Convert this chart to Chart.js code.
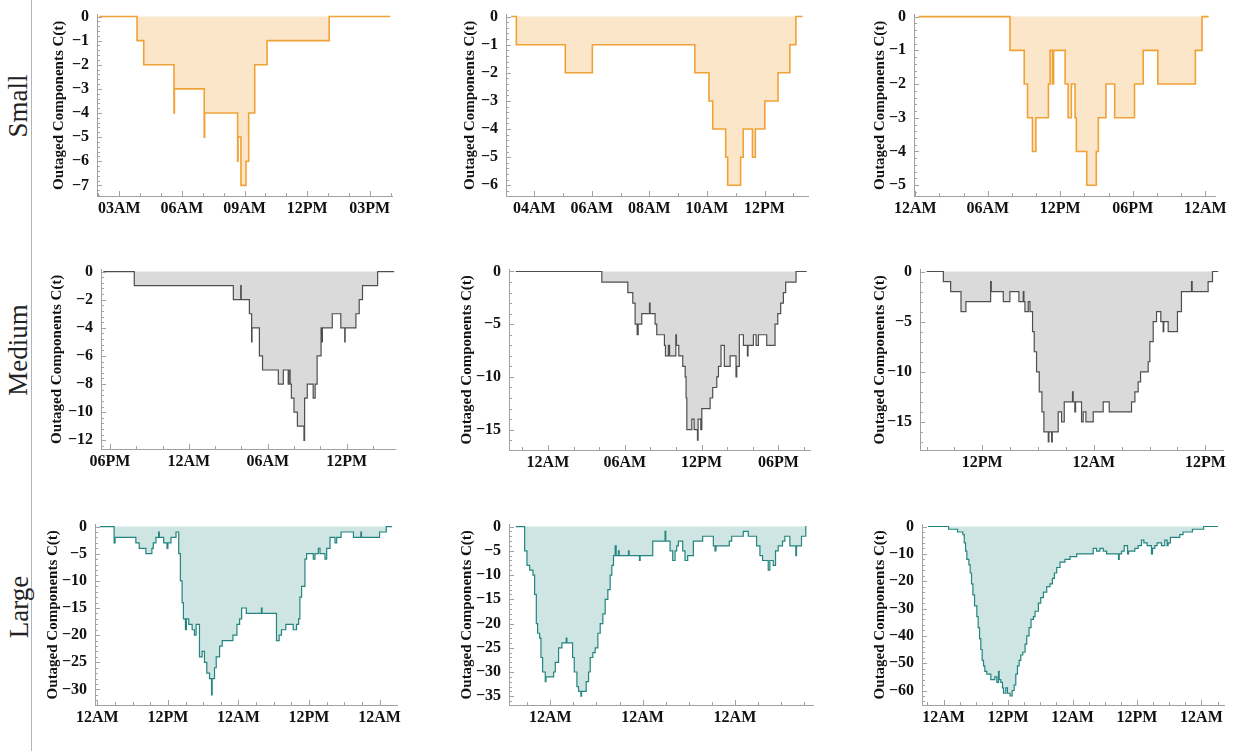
<!DOCTYPE html>
<html>
<head>
<meta charset="utf-8">
<script src="https://cdn.jsdelivr.net/npm/chart.js@4.4.0/dist/chart.umd.min.js"></script>
<style>
  html, body { margin: 0; padding: 0; background: #fff; }
  body { width: 1240px; height: 751px; position: relative; overflow: hidden; }
  canvas { position: absolute; }
  #sep { position: absolute; left: 31px; top: 0; width: 1px; height: 751px; background: #b4b4b4; }
  .rowlabel {
    position: absolute; font-family: 'Liberation Serif', 'Times New Roman', serif;
    font-size: 27px; color: #222; white-space: nowrap;
    transform: translate(-50%, -50%) rotate(-90deg);
  }
</style>
</head>
<body>
<div id="sep"></div>
<div class="rowlabel" style="left:18px; top:106px">Small</div>
<div class="rowlabel" style="left:18px; top:350px">Medium</div>
<div class="rowlabel" style="left:19px; top:607px">Large</div>

<script>
// outage curves: time in hours, value = outaged components C(t), held until the next time
const smallA_t = [2.04, 3.85, 4.17, 5.62, 5.64, 7.07, 7.09, 8.67, 8.69, 8.83, 9.07, 9.20, 9.49, 10.08, 13.06, 15.99];
const smallA_c = [0, -1, -2, -4, -3, -5, -4, -6, -5, -7, -6, -4, -2, -1, 0, 0];

const smallB_t = [3.2, 3.38, 5.08, 6.02, 9.58, 10.07, 10.2, 10.65, 10.72, 11.17, 11.26, 11.58, 11.68, 12.01, 12.47, 12.88, 13.09, 13.32];
const smallB_c = [0, -1, -2, -1, -2, -3, -4, -5, -6, -5, -4, -5, -4, -3, -2, -1, 0, 0];

const smallC_t = [0.27, 7.84, 9.02, 9.29, 9.70, 9.98, 11.02, 11.16, 11.35, 11.45, 12.40, 12.65, 12.92, 13.22, 13.33, 14.19, 14.98, 15.15, 15.78, 16.5, 18.14, 18.86, 20.07, 23.18, 23.73, 24.27];
const smallC_c = [0, -1, -2, -3, -4, -3, -2, -1, -2, -1, -2, -3, -2, -3, -4, -5, -4, -3, -2, -3, -2, -1, -2, -1, 0, 0];

const mediumA_t = [17.5, 19.85, 27.38, 27.94, 27.98, 28.6, 28.77, 28.8, 29.36, 29.6, 30.8, 31.18, 31.55, 31.6, 31.7, 31.79, 31.99, 32.25, 32.75, 32.8, 33.0, 33.45, 33.6, 33.75, 34.05, 34.12, 34.15, 34.9, 35.55, 35.85, 35.88, 36.7, 36.95, 37.2, 38.35, 39.6];
const mediumA_c = [0, -1, -2, -1, -2, -3, -5, -4, -6, -7, -8, -7, -8, -7, -8, -9, -10, -11, -12, -9, -8, -9, -8, -6, -4, -5, -4, -3, -4, -5, -4, -3, -2, -1, 0, 0];

const mediumB_t = [21.48, 28.21, 30.24, 30.63, 30.81, 30.97, 31.05, 31.33, 31.93, 31.98, 32.37, 32.5, 33.1, 33.18, 33.41, 33.5, 33.99, 34.04, 34.22, 34.53, 34.72, 34.79, 34.85, 35.24, 35.42, 35.68, 35.73, 35.94, 36.02, 36.67, 36.87, 37.19, 37.32, 37.52, 37.78, 38.23, 38.69, 38.75, 38.95, 39.27, 39.58, 39.63, 40.05, 40.26, 40.44, 41.09, 41.74, 41.95, 42.18, 42.39, 42.57, 43.38, 44.21];
const mediumB_c = [0, -1, -2, -3, -5, -6, -5, -4, -3, -4, -5, -6, -7, -8, -7, -8, -6, -7, -8, -9, -10, -12, -15, -14, -15, -16, -14, -15, -13, -12, -11, -10, -9, -7, -9, -8, -10, -9, -6, -7, -8, -7, -6, -7, -6, -7, -5, -4, -3, -2, -1, 0, 0];

const mediumC_t = [6.01, 7.81, 8.6, 9.71, 10.24, 12.9, 12.97, 14.26, 14.97, 15.94, 16.41, 16.48, 16.59, 16.95, 17.13, 17.41, 17.59, 17.84, 18.13, 18.42, 18.63, 19.1, 19.17, 19.46, 19.53, 20.17, 20.53, 20.82, 21.71, 21.78, 21.96, 22.04, 22.68, 22.86, 23.15, 23.94, 25.01, 25.66, 28.06, 28.42, 28.77, 29.03, 29.85, 30.03, 30.39, 30.75, 31.21, 31.46, 31.53, 32.0, 33.0, 33.43, 34.51, 34.58, 36.3, 36.77, 37.38];
const mediumC_c = [0, -1, -2, -4, -3, -1, -2, -3, -2, -3, -2, -3, -4, -3, -4, -6, -8, -10, -12, -14, -16, -17, -16, -17, -16, -14, -15, -13, -12, -13, -14, -13, -15, -14, -15, -14, -13, -14, -13, -12, -11, -10, -9, -7, -5, -4, -5, -6, -5, -6, -4, -2, -1, -2, -1, 0, 0];

const largeA_t = [0.46, 2.85, 3.02, 6.55, 7.12, 8.26, 9.28, 9.51, 9.97, 10.42, 10.54, 11.28, 11.85, 12.0, 12.53, 13.38, 13.84, 14.12, 14.41, 14.64, 14.98, 15.15, 15.55, 16.12, 16.51, 16.8, 17.37, 17.82, 18.22, 18.62, 19.08, 19.42, 19.53, 19.93, 20.22, 20.79, 21.24, 23.06, 23.75, 24.2, 24.54, 25.34, 27.9, 28.02, 30.47, 30.92, 31.32, 32.06, 33.31, 33.88, 34.23, 34.45, 34.74, 35.31, 35.59, 36.73, 37.02, 37.59, 37.87, 38.72, 39.01, 39.58, 40.43, 40.72, 41.46, 43.56, 44.82, 44.93, 48.01, 49.15, 50.11];
const largeA_c = [0, -3, -2, -3, -4, -5, -4, -3, -2, -1, -2, -3, -4, -3, -2, -1, -5, -10, -14, -17, -19, -17, -18, -19, -20, -18, -24, -23, -25, -27, -28, -31, -28, -26, -24, -22, -21, -20, -18, -17, -15, -16, -15, -16, -21, -20, -19, -18, -19, -18, -17, -13, -11, -6, -5, -6, -5, -4, -5, -6, -4, -2, -3, -2, -1, -2, -1, -2, -1, 0, 0];

const largeB_t = [15.0, 17.34, 17.94, 18.64, 19.5, 19.93, 20.37, 20.71, 21.23, 21.58, 22.01, 22.7, 22.88, 24.87, 25.3, 26.16, 27.03, 28.15, 28.33, 29.8, 30.23, 30.92, 31.35, 31.96, 32.13, 33.34, 33.95, 34.38, 35.07, 35.68, 36.37, 36.98, 37.67, 38.27, 38.97, 39.57, 40.0, 40.44, 40.87, 41.13, 41.73, 41.91, 44.33, 44.5, 47.18, 47.36, 50.64, 53.84, 54.02, 55.14, 55.83, 56.44, 56.87, 57.3, 58.43, 59.03, 59.72, 61.2, 63.62, 66.39, 66.82, 67.08, 70.54, 71.15, 74.17, 75.47, 77.63, 78.5, 79.19, 80.66, 81.09, 81.96, 82.56, 83.26, 84.38, 84.98, 86.28, 87.84, 88.01, 89.31, 90.43, 90.6];
const largeB_c = [0, -5, -8, -9, -10, -14, -20, -22, -23, -27, -30, -32, -31, -30, -28, -25, -24, -23, -24, -27, -30, -33, -34, -35, -34, -32, -30, -27, -26, -25, -22, -20, -18, -15, -13, -10, -8, -6, -4, -6, -5, -6, -5, -6, -7, -6, -3, -1, -3, -5, -7, -5, -4, -3, -5, -7, -6, -3, -2, -4, -5, -4, -3, -2, -1, -2, -4, -6, -7, -9, -7, -8, -5, -4, -3, -2, -4, -6, -4, -2, 0, 0];

const largeC_t = [-2.91, 0.93, 2.6, 3.59, 3.84, 4.09, 4.33, 4.71, 4.95, 5.2, 5.45, 5.76, 6.19, 6.44, 6.69, 6.93, 7.18, 7.43, 7.68, 8.05, 8.79, 9.54, 9.91, 10.22, 10.34, 10.65, 10.96, 11.15, 11.58, 11.89, 12.38, 12.76, 13.13, 13.44, 13.75, 14.06, 14.37, 14.74, 15.17, 15.48, 15.91, 16.28, 16.72, 17.03, 17.65, 18.08, 18.58, 19.2, 19.81, 20.25, 20.62, 21.05, 21.67, 22.6, 23.53, 24.77, 27.86, 28.48, 29.1, 29.72, 30.34, 32.57, 32.69, 33.13, 33.62, 34.24, 34.43, 35.6, 36.22, 36.84, 37.28, 37.89, 38.7, 38.89, 39.32, 39.75, 40.56, 41.18, 41.61, 41.8, 42.23, 43.96, 44.58, 46.32, 48.42, 51.08];
const largeC_c = [0, -1, -2, -3, -6, -9, -12, -14, -17, -21, -25, -29, -33, -37, -41, -45, -49, -51, -53, -54, -56, -55, -57, -53, -56, -57, -59, -61, -59, -61, -62, -60, -58, -54, -51, -49, -47, -46, -43, -40, -37, -34, -33, -31, -28, -26, -24, -22, -21, -19, -17, -15, -13, -12, -11, -10, -8, -9, -8, -9, -10, -12, -10, -9, -7, -10, -9, -8, -7, -5, -6, -7, -10, -8, -7, -6, -7, -5, -7, -6, -4, -3, -2, -1, 0, 0];

const styles = {
  small:  { line: '#f0a237', fill: 'rgba(240,165,60,0.28)', width: 1.6 },
  medium: { line: '#4f4f4f', fill: 'rgba(140,140,140,0.32)', width: 1.2 },
  large:  { line: '#23857f', fill: 'rgba(95,168,163,0.30)', width: 1.2 }
};

// box = plot area [left, top, right, bottom] on the page
const panels = [
  { t: smallA_t,  c: smallA_c,  style: 'small',  box: [97, 9, 392, 196],   x: [1.93, 16.07],  xStep: 3,  xMinor: 1, y: [-7.44, 0.08],  yStep: 1,  gap: 38 },
  { t: smallB_t,  c: smallB_c,  style: 'small',  box: [506, 9, 808, 196],  x: [3.02, 13.51],  xStep: 2,  xMinor: 1, y: [-6.38, 0.07],  yStep: 1,  gap: 36 },
  { t: smallC_t,  c: smallC_c,  style: 'small',  box: [914, 9, 1215, 196], x: [-0.1, 24.8],   xStep: 6,  xMinor: 2, y: [-5.32, 0.06],  yStep: 1,  gap: 34 },
  { t: mediumA_t, c: mediumA_c, style: 'medium', box: [101, 264, 395, 449], x: [17.32, 39.67], xStep: 6,  xMinor: 2, y: [-12.62, 0.14], yStep: 2,  gap: 44 },
  { t: mediumB_t, c: mediumB_c, style: 'medium', box: [509, 264, 810, 450], x: [20.96, 44.47], xStep: 6,  xMinor: 2, y: [-16.93, 0.18], yStep: 5,  gap: 42 },
  { t: mediumC_t, c: mediumC_c, style: 'medium', box: [920, 264, 1223, 450], x: [5.3, 37.9],   xStep: 12, xMinor: 3, y: [-17.8, 0.19],  yStep: 5,  gap: 40 },
  { t: largeA_t,  c: largeA_c,  style: 'large',  box: [95, 519, 397, 705],  x: [-0.4, 50.97],  xStep: 12, xMinor: 3, y: [-32.86, 0.36], yStep: 5,  gap: 42 },
  { t: largeB_t,  c: largeB_c,  style: 'large',  box: [509, 519, 813, 705], x: [13.27, 92.3],  xStep: 24, xMinor: 6, y: [-36.8, 0.4],   yStep: 5,  gap: 42 },
  { t: largeC_t,  c: largeC_c,  style: 'large',  box: [922, 519, 1224, 705], x: [-4.02, 52.2], xStep: 12, xMinor: 3, y: [-65.3, 0.7],   yStep: 10, gap: 42 }
];

const SERIF = "'Liberation Serif', 'Times New Roman', serif";
const TITLE_SIZE = 15;
const PAD_TOP = 12, PAD_RIGHT = 26, X_AXIS_H = 30;

function hourLabel(h) {
  const hh = ((Math.round(h) % 24) + 24) % 24;
  const h12 = hh % 12 === 0 ? 12 : hh % 12;
  return String(h12).padStart(2, '0') + (hh < 12 ? 'AM' : 'PM');
}

function multiples(min, max, step) {
  const out = [];
  for (let i = Math.ceil(min / step - 1e-9); i * step <= max + 1e-9; i++) out.push(i * step);
  return out;
}

// small inward tick marks on both axes (major + minor)
const innerTicks = {
  id: 'innerTicks',
  afterDatasetsDraw(chart, args, opts) {
    const { ctx, chartArea: a, scales: { x, y } } = chart;
    ctx.save();
    ctx.strokeStyle = '#a3a3a3';
    ctx.lineWidth = 1;
    ctx.beginPath();
    multiples(x.min, x.max, opts.xMinor).forEach(v => {
      const px = Math.round(x.getPixelForValue(v)) + 0.5;
      const major = Math.abs(v / opts.xStep - Math.round(v / opts.xStep)) < 1e-6;
      ctx.moveTo(px, a.bottom);
      ctx.lineTo(px, a.bottom - (major ? 5 : 3));
    });
    multiples(y.min, y.max, opts.yStep / 5).forEach(v => {
      const py = Math.round(y.getPixelForValue(v)) + 0.5;
      const major = Math.abs(v / opts.yStep - Math.round(v / opts.yStep)) < 1e-6;
      ctx.moveTo(a.left, py);
      ctx.lineTo(a.left + (major ? 5 : 3), py);
    });
    ctx.stroke();
    ctx.restore();
  }
};

panels.forEach(p => {
  const [l, t, r, b] = p.box;
  const yW = p.gap + TITLE_SIZE * 1.2 / 2;
  const canvas = document.createElement('canvas');
  canvas.width = yW + (r - l) + PAD_RIGHT;
  canvas.height = PAD_TOP + (b - t) + X_AXIS_H;
  canvas.style.left = (l - yW) + 'px';
  canvas.style.top = (t - PAD_TOP) + 'px';
  document.body.appendChild(canvas);

  const st = styles[p.style];
  const tickFont = { family: SERIF, size: 16, weight: 'bold' };

  new Chart(canvas, {
    type: 'line',
    data: {
      datasets: [{
        data: p.t.map((h, i) => ({ x: h, y: p.c[i] })),
        stepped: 'before',   // horizontal first, then the jump at the next time
        borderColor: st.line,
        borderWidth: st.width,
        backgroundColor: st.fill,
        fill: 'origin',
        pointRadius: 0
      }]
    },
    options: {
      responsive: false,
      animation: false,
      devicePixelRatio: 1,
      layout: { padding: { left: 0, top: PAD_TOP, right: PAD_RIGHT, bottom: 0 } },
      plugins: {
        legend: { display: false },
        tooltip: { enabled: false },
        innerTicks: { xStep: p.xStep, xMinor: p.xMinor, yStep: p.yStep }
      },
      scales: {
        x: {
          type: 'linear',
          min: p.x[0],
          max: p.x[1],
          grid: { display: false, drawTicks: false },
          border: { display: true, color: '#a0a0a0', width: 1 },
          afterBuildTicks: s => { s.ticks = multiples(p.x[0], p.x[1], p.xStep).map(v => ({ value: v })); },
          afterFit: s => { s.height = X_AXIS_H; },
          ticks: {
            autoSkip: false, maxRotation: 0, padding: 3,
            color: '#111', font: tickFont,
            callback: v => hourLabel(v)
          }
        },
        y: {
          min: p.y[0],
          max: p.y[1],
          grid: { display: false, drawTicks: false },
          border: { display: true, color: '#a0a0a0', width: 1 },
          afterBuildTicks: s => { s.ticks = multiples(p.y[0], p.y[1], p.yStep).map(v => ({ value: v })); },
          afterFit: s => { s.width = yW; },
          ticks: {
            padding: 8, color: '#111', font: tickFont,
            callback: v => (v < 0 ? '\u2212' + Math.abs(v) : String(v))
          },
          title: {
            display: true,
            text: 'Outaged Components C(t)',
            color: '#111',
            padding: 0,
            font: { family: SERIF, size: TITLE_SIZE, weight: 'bold' }
          }
        }
      }
    },
    plugins: [innerTicks]
  });
});
</script>
</body>
</html>
